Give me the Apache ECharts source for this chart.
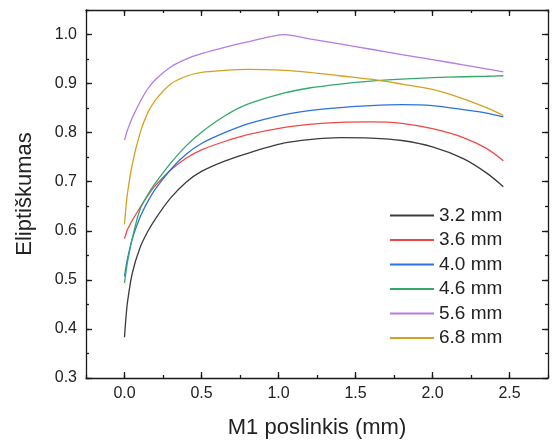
<!DOCTYPE html>
<html>
<head>
<meta charset="utf-8">
<script src="https://cdn.jsdelivr.net/npm/echarts@6/dist/echarts.min.js"></script>
<style>
html,body{margin:0;padding:0;background:#fff;}
#chart{width:560px;height:444px;}
</style>
</head>
<body>
<div id="chart"></div>
<script>
// ---- data ----
const xValues = [0, 0.01, 0.02, 0.05, 0.1, 0.15, 0.2, 0.3, 0.4, 0.5, 0.65, 0.8, 1.04, 1.2, 1.4, 1.6, 1.8, 2.0, 2.2, 2.35, 2.46];
const y32 = [0.383, 0.425, 0.456, 0.513, 0.565, 0.598, 0.624, 0.667, 0.699, 0.721, 0.742, 0.758, 0.779, 0.786, 0.790, 0.789, 0.784, 0.771, 0.747, 0.718, 0.690];
const y36 = [0.584, 0.594, 0.603, 0.621, 0.647, 0.671, 0.692, 0.724, 0.748, 0.765, 0.782, 0.796, 0.811, 0.817, 0.821, 0.822, 0.819, 0.808, 0.790, 0.768, 0.743];
const y40 = [0.507, 0.527, 0.544, 0.583, 0.627, 0.659, 0.685, 0.725, 0.756, 0.778, 0.800, 0.818, 0.837, 0.845, 0.851, 0.855, 0.857, 0.855, 0.847, 0.840, 0.832];
const y46 = [0.494, 0.517, 0.537, 0.584, 0.643, 0.673, 0.697, 0.738, 0.773, 0.801, 0.834, 0.858, 0.881, 0.891, 0.899, 0.905, 0.909, 0.912, 0.914, 0.915, 0.916];
const y56 = [0.785, 0.796, 0.806, 0.830, 0.862, 0.889, 0.908, 0.934, 0.950, 0.961, 0.974, 0.985, 1.000, 0.991, 0.981, 0.970, 0.959, 0.949, 0.938, 0.930, 0.924];
const y68 = [0.613, 0.650, 0.678, 0.735, 0.798, 0.840, 0.866, 0.899, 0.915, 0.923, 0.927, 0.929, 0.927, 0.923, 0.916, 0.909, 0.899, 0.888, 0.869, 0.851, 0.835];
const seriesNames = ['3.2 mm', '3.6 mm', '4.0 mm', '4.6 mm', '5.6 mm', '6.8 mm'];
const seriesValues = [y32, y36, y40, y46, y56, y68];
const xTicks = [0, 0.5, 1.0, 1.5, 2.0, 2.5];
const yTicks = [0.3, 0.4, 0.5, 0.6, 0.7, 0.8, 0.9, 1.0];

// ---- styles ----
const colors = ['#3c3c3c', '#f04848', '#2a72e0', '#34a86a', '#b57be6', '#d4a11c'];
const FONT = '"Liberation Sans", Arial, sans-serif';
const AX = '#1a1a1a';

function xAxisDef(pos, major, labels) {
  return {
    type: 'value', position: pos, min: -0.25, max: 2.75, interval: 0.25,
    axisLine: { show: !major, onZero: false, lineStyle: { color: AX, width: 1.3 } },
    axisTick: major
      ? { show: true, inside: true, length: 6, customValues: xTicks, lineStyle: { color: AX, width: 1.3 } }
      : { show: true, inside: true, length: 3, lineStyle: { color: AX, width: 1.3 } },
    axisLabel: labels
      ? { show: true, customValues: xTicks, formatter: v => Number(v).toFixed(1), fontSize: 16, color: '#222', fontFamily: FONT, margin: 8 }
      : { show: false },
    splitLine: { show: false },
    name: labels ? 'M1 poslinkis (mm)' : '',
    nameLocation: 'middle', nameGap: 39,
    nameTextStyle: { fontSize: 22, color: '#222', fontFamily: FONT }
  };
}
function yAxisDef(pos, major, labels) {
  return {
    type: 'value', position: pos, min: 0.3, max: 1.05, interval: 0.05,
    axisLine: { show: !major, onZero: false, lineStyle: { color: AX, width: 1.3 } },
    axisTick: major
      ? { show: true, inside: true, length: 6, customValues: yTicks, lineStyle: { color: AX, width: 1.3 } }
      : { show: true, inside: true, length: 3, lineStyle: { color: AX, width: 1.3 } },
    axisLabel: labels
      ? { show: true, customValues: yTicks, formatter: v => Number(v).toFixed(1), fontSize: 16, color: '#222', fontFamily: FONT, margin: 9 }
      : { show: false },
    splitLine: { show: false },
    name: labels ? 'Eliptiškumas' : '',
    nameLocation: 'middle', nameGap: 50,
    nameTextStyle: { fontSize: 22, color: '#222', fontFamily: FONT }
  };
}

const series = seriesNames.map((name, i) => ({
  name: name,
  type: 'line',
  xAxisIndex: 0, yAxisIndex: 0,
  data: xValues.map((x, j) => [x, seriesValues[i][j]]),
  showSymbol: false, symbol: 'none',
  smooth: 0.3,
  lineStyle: { color: colors[i], width: 1.3 },
  itemStyle: { color: colors[i] },
  z: 3
}));

const chart = echarts.init(document.getElementById('chart'), null, { renderer: 'canvas' });
chart.setOption({
  animation: false,
  backgroundColor: '#ffffff',
  color: colors,
  grid: { left: 86, right: 12, top: 10, bottom: 62, containLabel: false },
  xAxis: [
    xAxisDef('bottom', true, true),
    xAxisDef('bottom', false, false),
    xAxisDef('top', true, false),
    xAxisDef('top', false, false)
  ],
  yAxis: [
    yAxisDef('left', true, true),
    yAxisDef('left', false, false),
    yAxisDef('right', true, false),
    yAxisDef('right', false, false)
  ],
  legend: {
    orient: 'vertical', left: 389, top: 206, padding: 0,
    itemWidth: 44, itemHeight: 18, itemGap: 5.5,
    itemStyle: { opacity: 0 },
    textStyle: { fontSize: 19, color: '#222', fontFamily: FONT },
    data: seriesNames
  },
  series: series
});
</script>
</body>
</html>
